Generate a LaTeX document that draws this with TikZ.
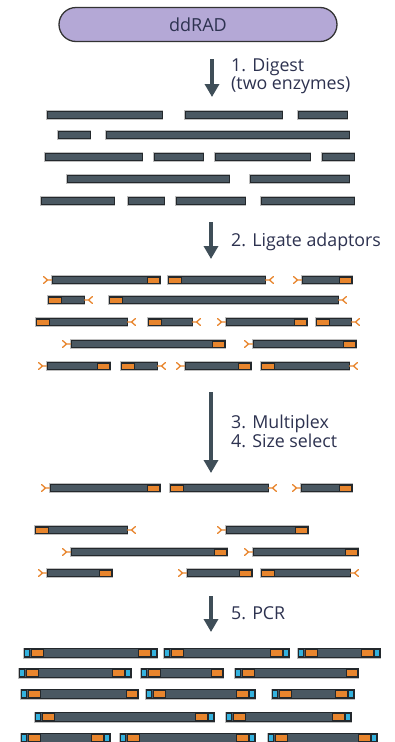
\documentclass[tikz,border=0pt]{standalone}
\usepackage{fontspec}
\setmainfont{Open Sans}
\usetikzlibrary{arrows.meta}
\definecolor{slate}{RGB}{74,88,98}
\definecolor{edgec}{RGB}{35,40,44}
\definecolor{orangec}{RGB}{232,133,45}
\definecolor{bluec}{RGB}{52,178,222}
\definecolor{arrowc}{RGB}{63,78,88}
\definecolor{pillc}{RGB}{180,168,214}
\definecolor{textc}{RGB}{45,50,80}
\tikzset{
  fragment/.style={fill=slate,draw=edgec,line width=1pt,preaction={draw=black!25,line width=2.6pt}},
  orangepiece/.style={fill=orangec,draw=edgec,line width=0.6pt},
  bluepiece/.style={fill=bluec,draw=edgec,line width=0.6pt},
  adaptor/.style={draw=orangec,line width=1.3pt,line cap=round,line join=round},
  steparrow/.style={draw=arrowc,line width=4.5pt,-{Triangle[width=14pt,length=13pt]}},
  lbl/.style={anchor=north west,align=left,text=textc,font=\fontsize{17.8}{16.5}\selectfont,inner sep=0pt},
  pill/.style={draw=black!80,line width=1.3pt,fill=pillc,rounded corners=17pt,minimum width=278pt,minimum height=34pt,text=textc,font=\fontsize{18}{20}\selectfont}
}
% plain fragment: y x1 x2
\newcommand\plainfrag[3]{\draw[fragment] (#2,#1-3.8) rectangle (#3,#1+3.8);}
% ligated: adaptor left, orange right
\newcommand\ligL[3]{%
  \draw[fragment] (#2,#1-3.7) rectangle (#3,#1+3.7);
  \draw[orangepiece] (#3-13,#1-3.2) rectangle (#3-0.5,#1+3.2);
  \draw[adaptor] (#2-0.5,#1) -- (#2-4.5,#1) -- (#2-8.5,#1-3.5) (#2-4.5,#1) -- (#2-8.5,#1+3.5);}
% ligated: orange left, adaptor right
\newcommand\ligR[3]{%
  \draw[fragment] (#2,#1-3.7) rectangle (#3,#1+3.7);
  \draw[orangepiece] (#2+0.5,#1-3.2) rectangle (#2+13,#1+3.2);
  \draw[adaptor] (#3+0.5,#1) -- (#3+4.5,#1) -- (#3+8.5,#1-3.5) (#3+4.5,#1) -- (#3+8.5,#1+3.5);}
% PCR product: y x1 x2 leftblue rightblue
\newcommand\pcrfrag[5]{%
  \draw[fragment] (#2,#1-4.2) rectangle (#3,#1+4.2);
  \ifnum#4=1
    \draw[bluepiece] (#2+0.6,#1-3.5) rectangle (#2+5.5,#1+3.5);
    \draw[orangepiece] (#2+7,#1-3.5) rectangle (#2+19,#1+3.5);
  \else
    \draw[orangepiece] (#2+0.6,#1-3.5) rectangle (#2+12,#1+3.5);
  \fi
  \ifnum#5=1
    \draw[bluepiece] (#3-5.5,#1-3.5) rectangle (#3-0.6,#1+3.5);
    \draw[orangepiece] (#3-19,#1-3.5) rectangle (#3-7,#1+3.5);
  \else
    \draw[orangepiece] (#3-12,#1-3.5) rectangle (#3-0.6,#1+3.5);
  \fi}
\begin{document}
\begin{tikzpicture}[x=1pt,y=-1pt]
\useasboundingbox[fill=white] (0,0) rectangle (394,742);

% title
\node[pill] (title) at (198,24.5) {ddRAD};

% step arrows
\coordinate (a1s) at (212,59);
\coordinate (a1e) at (212,97);
\coordinate (a2s) at (211,222);
\coordinate (a2e) at (211,259);
\coordinate (a3s) at (211,392);
\coordinate (a3e) at (211,473);
\coordinate (a5s) at (211,596);
\coordinate (a5e) at (211,632);
\draw[steparrow] (a1s) -- (a1e);
\draw[steparrow] (a2s) -- (a2e);
\draw[steparrow] (a3s) -- (a3e);
\draw[steparrow] (a5s) -- (a5e);

% labels
\node[lbl] (l1) at (231,58.5) {1. Digest\\(two enzymes)};
\node[lbl] (l2) at (231,232.5) {2. Ligate adaptors};
\node[lbl] (l3) at (231,414.5) {3. Multiplex\\4. Size select};
\node[lbl] (l5) at (231,606.5) {5. PCR};

% digested fragments
\foreach \y/\a/\b in {115/47/162,115/185/282,115/298/347,
  135/58/90,135/106/349,
  157/45/142,157/154/203,157/215/310,157/322/354,
  179/67/229,179/250/349,
  201/41/114,201/128/164,201/176/245,201/261/354}
  {\plainfrag{\y}{\a}{\b}}

% ligated fragments
\foreach \y/\a/\b in {280/52/160,280/302/352,322/226/307,344/71/225,344/253/356,366/47/110,366/185/251}
  {\ligL{\y}{\a}{\b}}
\foreach \y/\a/\b in {280/168/265,300/48/84,300/109/338,322/36/127,322/148/192,322/316/351,366/121/157,366/261/349}
  {\ligR{\y}{\a}{\b}}

% size-selected fragments
\foreach \y/\a/\b in {488/50/160,488/301/352,530/226/308,552/71/227,552/253/358,573/47/112,573/187/252}
  {\ligL{\y}{\a}{\b}}
\foreach \y/\a/\b in {488/170/268,530/35/127,573/261/350}
  {\ligR{\y}{\a}{\b}}

% PCR products
\foreach \y/\a/\b/\l/\r in {653/24/157/1/1,653/164/289/1/1,653/298/380/1/1,
  673/19/131/1/1,673/141/223/1/0,673/235/358/1/0,
  694/21/138/1/0,694/146/255/1/1,694/272/354/1/1,
  717/35/214/1/1,717/226/351/1/1,
  738/21/110/1/1,738/120/255/1/1,738/268/377/1/1}
  {\pcrfrag{\y}{\a}{\b}{\l}{\r}}
\end{tikzpicture}
\end{document}
